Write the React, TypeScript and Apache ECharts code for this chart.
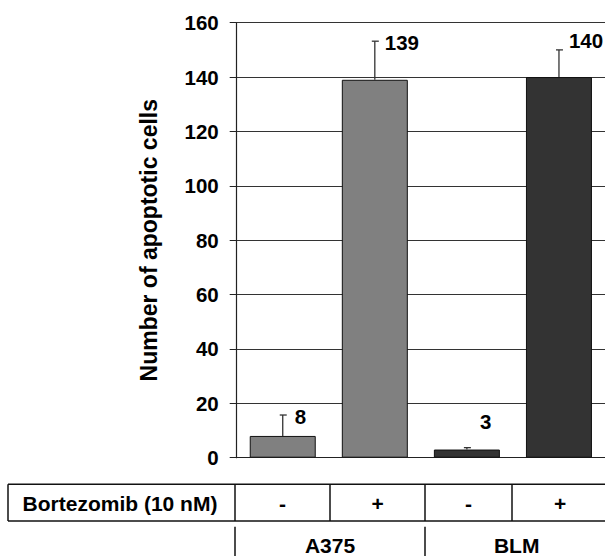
import React, { useEffect, useRef } from "react";
import * as echarts from "echarts";

// Apoptosis counts per condition
const categories = ["A375 -", "A375 +", "BLM -", "BLM +"];
const apoptoticCells = [8, 139, 3, 140];
const errorUpper = [7.7, 14.2, 0.7, 10];
const yTicks = { min: 0, max: 160, interval: 20 };

// Table rows under the chart
const treatmentLabel = "Bortezomib (10 nM)";
const treatmentSigns = ["-", "+", "-", "+"];
const cellLines = ["A375", "BLM"];

// Styling
const barColors = ["#808080", "#808080", "#333333", "#333333"];
const labelOffsets: [number, number][] = [
  [12, 1],
  [10, 1],
  [13, -26],
  [10, -9],
];
const FONT = "'Liberation Sans', Arial, Helvetica, sans-serif";

export default function App() {
  const ref = useRef<HTMLDivElement>(null);

  useEffect(() => {
    if (!ref.current) return;
    const chart = echarts.init(ref.current, null, { renderer: "svg" });

    const gridLeft = 236.7;
    const gridTop = 22.7;
    const gridWidth = 373.3;
    const gridHeight = 435;

    const tableTop = 484.3;
    const tableMid = 521;
    const tableLeft = 8;
    const tableRight = 608;
    const rowCols = [235, 330, 425, 512];
    const signCenters = [282.5, 377.5, 468.5, 560];
    const lineCenters = [330, 516.7];
    const lowerCols = [235, 425, 608];
    const lineStyle = { stroke: "#111", lineWidth: 1.5 };

    const graphics: any[] = [];
    [tableTop, tableMid].forEach((y) =>
      graphics.push({
        type: "line",
        shape: { x1: tableLeft, y1: y, x2: tableRight, y2: y },
        style: lineStyle,
      })
    );
    [tableLeft, ...rowCols, tableRight].forEach((x) =>
      graphics.push({
        type: "line",
        shape: { x1: x, y1: tableTop, x2: x, y2: tableMid },
        style: lineStyle,
      })
    );
    lowerCols.forEach((x) =>
      graphics.push({
        type: "line",
        shape: { x1: x, y1: 526.7, x2: x, y2: 560 },
        style: lineStyle,
      })
    );
    graphics.push({
      type: "text",
      x: 120,
      y: 503,
      style: {
        text: treatmentLabel,
        font: `bold 21px ${FONT}`,
        fill: "#000",
        align: "center",
        verticalAlign: "middle",
      },
    });
    treatmentSigns.forEach((s, i) =>
      graphics.push({
        type: "text",
        x: signCenters[i],
        y: 503,
        style: {
          text: s,
          font: `bold 21px ${FONT}`,
          fill: "#000",
          align: "center",
          verticalAlign: "middle",
        },
      })
    );
    cellLines.forEach((s, i) =>
      graphics.push({
        type: "text",
        x: lineCenters[i],
        y: 545,
        style: {
          text: s,
          font: `bold 21px ${FONT}`,
          fill: "#000",
          align: "center",
          verticalAlign: "middle",
        },
      })
    );

    chart.setOption({
      animation: false,
      backgroundColor: "#fff",
      grid: {
        left: gridLeft,
        top: gridTop,
        width: gridWidth,
        height: gridHeight,
      },
      xAxis: {
        type: "category",
        data: categories,
        axisLabel: { show: false },
        axisTick: { show: false },
        axisLine: { lineStyle: { color: "#222", width: 1.2 } },
      },
      yAxis: {
        type: "value",
        min: yTicks.min,
        max: yTicks.max,
        interval: yTicks.interval,
        name: "Number of apoptotic cells",
        nameLocation: "middle",
        nameGap: 76,
        nameRotate: 90,
        nameTextStyle: {
          fontFamily: FONT,
          fontWeight: "bold",
          fontSize: 23,
          color: "#000",
        },
        axisLine: { show: true, lineStyle: { color: "#222", width: 1.2 } },
        axisTick: { show: true, length: 7, lineStyle: { color: "#222" } },
        axisLabel: {
          margin: 18,
          fontFamily: FONT,
          fontWeight: "bold",
          fontSize: 20.5,
          color: "#000",
        },
        splitLine: { show: true, lineStyle: { color: "#333", width: 1 } },
      },
      series: [
        {
          type: "bar",
          barWidth: 66,
          data: apoptoticCells.map((v, i) => ({
            value: v,
            itemStyle: {
              color: barColors[i],
              borderColor: "#111",
              borderWidth: 1,
            },
          })),
          z: 2,
        },
        {
          type: "custom",
          z: 3,
          data: apoptoticCells.map((v, i) => [i, v, errorUpper[i]]),
          renderItem: (params: any, api: any) => {
            const i = api.value(0);
            const v = api.value(1);
            const e = api.value(2);
            const base = api.coord([i, v]);
            const top = api.coord([i, v + e]);
            const off = labelOffsets[params.dataIndex];
            return {
              type: "group",
              children: [
                {
                  type: "line",
                  shape: { x1: base[0], y1: base[1], x2: top[0], y2: top[1] },
                  style: { stroke: "#333", lineWidth: 1.3 },
                },
                {
                  type: "line",
                  shape: { x1: top[0] - 3, y1: top[1], x2: top[0] + 4, y2: top[1] },
                  style: { stroke: "#333", lineWidth: 1.3 },
                },
                {
                  type: "text",
                  x: top[0] + off[0],
                  y: top[1] + off[1],
                  style: {
                    text: String(v),
                    font: `bold 20.5px ${FONT}`,
                    fill: "#000",
                    align: "left",
                    verticalAlign: "middle",
                  },
                },
              ],
            };
          },
        },
      ],
      graphic: graphics,
    });

    return () => chart.dispose();
  }, []);

  return (
    <div
      ref={ref}
      style={{ position: "absolute", left: 0, top: 0, width: 605, height: 556 }}
    />
  );
}
